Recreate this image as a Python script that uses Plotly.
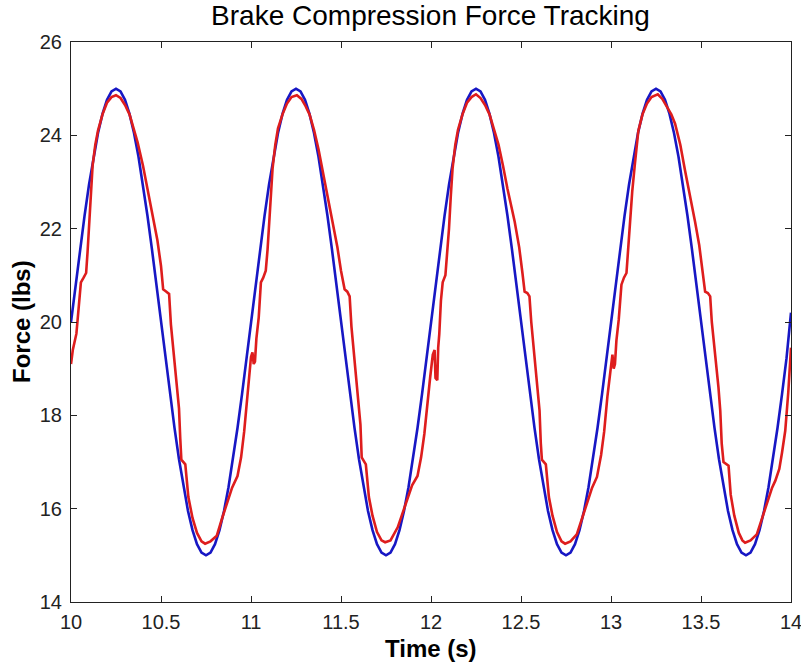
import plotly.graph_objects as go

# ---------------- data ----------------
title_text = "Brake Compression Force Tracking"
x_label = "Time (s)"
y_label = "Force (lbs)"
x_ticks = [10, 10.5, 11, 11.5, 12, 12.5, 13, 13.5, 14]
x_ticktext = ["10", "10.5", "11", "11.5", "12", "12.5", "13", "13.5", "14"]
y_ticks = [14, 16, 18, 20, 22, 24, 26]

# reference (commanded) force, sampled every 0.025 s from 10 s to 14 s
ref_t = [round(10 + 0.025 * i, 3) for i in range(161)]
ref_f = [
    20.00, 20.78, 21.55, 22.27, 22.94, 23.54, 24.05, 24.46, 24.76, 24.94,
    25.00, 24.94, 24.76, 24.46, 24.05, 23.54, 22.94, 22.27, 21.55, 20.78,
    20.00, 19.22, 18.45, 17.73, 17.06, 16.46, 15.95, 15.54, 15.24, 15.06,
    15.00, 15.06, 15.24, 15.54, 15.95, 16.46, 17.06, 17.73, 18.45, 19.22,
    20.00, 20.78, 21.55, 22.27, 22.94, 23.54, 24.05, 24.46, 24.76, 24.94,
    25.00, 24.94, 24.76, 24.46, 24.05, 23.54, 22.94, 22.27, 21.55, 20.78,
    20.00, 19.22, 18.45, 17.73, 17.06, 16.46, 15.95, 15.54, 15.24, 15.06,
    15.00, 15.06, 15.24, 15.54, 15.95, 16.46, 17.06, 17.73, 18.45, 19.22,
    20.00, 20.78, 21.55, 22.27, 22.94, 23.54, 24.05, 24.46, 24.76, 24.94,
    25.00, 24.94, 24.76, 24.46, 24.05, 23.54, 22.94, 22.27, 21.55, 20.78,
    20.00, 19.22, 18.45, 17.73, 17.06, 16.46, 15.95, 15.54, 15.24, 15.06,
    15.00, 15.06, 15.24, 15.54, 15.95, 16.46, 17.06, 17.73, 18.45, 19.22,
    20.00, 20.78, 21.55, 22.27, 22.94, 23.54, 24.05, 24.46, 24.76, 24.94,
    25.00, 24.94, 24.76, 24.46, 24.05, 23.54, 22.94, 22.27, 21.55, 20.78,
    20.00, 19.22, 18.45, 17.73, 17.06, 16.46, 15.95, 15.54, 15.24, 15.06,
    15.00, 15.06, 15.24, 15.54, 15.95, 16.46, 17.06, 17.73, 18.45, 19.22,
    20.20,
]

meas_t = [
    10.000, 10.010, 10.030, 10.045, 10.055, 10.070, 10.084, 10.092, 10.100, 10.110,
    10.120, 10.135, 10.150, 10.175, 10.200, 10.225, 10.250, 10.275, 10.300, 10.325,
    10.345, 10.370, 10.400, 10.425, 10.455, 10.480, 10.500, 10.512, 10.530, 10.545,
    10.555, 10.565, 10.578, 10.590, 10.600, 10.607, 10.613, 10.635, 10.652, 10.675,
    10.700, 10.725, 10.745, 10.775, 10.810, 10.840, 10.867, 10.895, 10.925, 10.945,
    10.962, 10.980, 11.000,
    11.008, 11.015, 11.022, 11.030, 11.043, 11.055, 11.068, 11.082, 11.092, 11.100,
    11.110, 11.120, 11.135, 11.150, 11.175, 11.200, 11.225, 11.255, 11.280, 11.300,
    11.325, 11.350, 11.375, 11.400, 11.425, 11.455, 11.480, 11.500, 11.520, 11.535,
    11.548, 11.558, 11.570, 11.582, 11.595, 11.608, 11.615, 11.638, 11.655, 11.675,
    11.700, 11.725, 11.745, 11.775, 11.815, 11.845, 11.870, 11.895, 11.925, 11.945,
    11.963, 11.980, 11.995, 12.010, 12.020, 12.025, 12.035, 12.040, 12.046, 12.055,
    12.065, 12.080, 12.092, 12.100, 12.110, 12.120, 12.135, 12.150, 12.175, 12.200,
    12.225, 12.250, 12.275, 12.300, 12.325, 12.350, 12.375, 12.400, 12.425, 12.465,
    12.490, 12.508, 12.520, 12.535, 12.547, 12.557, 12.568, 12.580, 12.592, 12.603,
    12.610, 12.616, 12.638, 12.655, 12.675, 12.700, 12.725, 12.745, 12.775, 12.810,
    12.840, 12.867, 12.895, 12.922, 12.945, 12.962, 12.980, 13.000,
    13.008, 13.015, 13.022, 13.030, 13.043, 13.058, 13.072, 13.086, 13.095, 13.105,
    13.118, 13.133, 13.152, 13.175, 13.200, 13.225, 13.260, 13.285, 13.310, 13.335,
    13.356, 13.385, 13.411, 13.440, 13.467, 13.490, 13.508, 13.523, 13.538, 13.551,
    13.560, 13.572, 13.585, 13.597, 13.607, 13.615, 13.625, 13.653, 13.665, 13.685,
    13.710, 13.730, 13.745, 13.775, 13.810, 13.840, 13.867, 13.895, 13.913, 13.935,
    13.950, 13.968, 13.985, 14.000,
]
meas_f = [
    19.10, 19.40, 19.75, 20.35, 20.85, 20.95, 21.05, 21.50, 22.05, 22.75,
    23.35, 23.80, 24.10, 24.45, 24.70, 24.82, 24.86, 24.80, 24.65, 24.45,
    24.20, 23.85, 23.35, 22.85, 22.30, 21.75, 21.20, 20.70, 20.65, 20.60,
    19.95, 19.55, 19.10, 18.65, 18.15, 17.50, 17.05, 16.95, 16.25, 15.80,
    15.48, 15.30, 15.25, 15.30, 15.42, 15.80, 16.10, 16.45, 16.70, 17.10,
    17.65, 18.45, 19.25,
    19.35, 19.10, 19.15, 19.65, 20.10, 20.85, 20.95, 21.10, 21.55, 22.00,
    22.70, 23.30, 23.80, 24.15, 24.45, 24.68, 24.82, 24.86, 24.78, 24.65,
    24.45, 24.12, 23.70, 23.20, 22.68, 22.05, 21.60, 21.10, 20.70, 20.65,
    20.55, 19.90, 19.40, 19.00, 18.45, 17.80, 17.10, 16.95, 16.25, 15.85,
    15.50, 15.32, 15.28, 15.32, 15.60, 15.95, 16.20, 16.50, 16.70, 17.10,
    17.60, 18.30, 18.80, 19.30, 19.40, 18.80, 18.75, 19.45, 19.74, 20.45,
    20.85, 21.00, 21.50, 22.00, 22.70, 23.30, 23.80, 24.12, 24.45, 24.70,
    24.82, 24.88, 24.80, 24.65, 24.45, 24.15, 23.80, 23.35, 22.85, 22.15,
    21.60, 21.05, 20.65, 20.62, 20.55, 20.00, 19.55, 19.10, 18.60, 18.10,
    17.40, 17.05, 16.95, 16.25, 15.85, 15.50, 15.30, 15.25, 15.30, 15.45,
    15.80, 16.10, 16.45, 16.68, 17.15, 17.65, 18.40, 19.05,
    19.30, 19.00, 19.10, 19.60, 20.05, 20.80, 20.95, 21.05, 21.55, 22.15,
    22.80, 23.40, 24.10, 24.45, 24.68, 24.82, 24.88, 24.78, 24.62, 24.45,
    24.25, 23.80, 23.25, 22.70, 22.15, 21.65, 21.10, 20.65, 20.62, 20.55,
    20.00, 19.55, 19.10, 18.60, 18.10, 17.40, 17.00, 16.92, 16.30, 15.85,
    15.48, 15.32, 15.27, 15.32, 15.45, 15.80, 16.10, 16.45, 16.60, 16.85,
    17.20, 17.67, 18.50, 19.45,
]

# ---------------- figure ----------------
FONT = "Liberation Sans, Arial, sans-serif"
BLUE = "#1717c4"
RED = "#de1d1d"

fig = go.Figure()
fig.add_trace(go.Scatter(x=ref_t, y=ref_f, mode="lines",
                         line=dict(color=BLUE, width=2.6), showlegend=False))
fig.add_trace(go.Scatter(x=meas_t, y=meas_f, mode="lines",
                         line=dict(color=RED, width=2.6), showlegend=False))

axis_common = dict(
    showgrid=False, zeroline=False, showline=True, linecolor="#222222",
    linewidth=1, mirror="ticks", ticks="inside", ticklen=6, tickwidth=1,
    tickcolor="#222222", tickfont=dict(family=FONT, size=20, color="#222222"),
    ticklabeloverflow="allow", automargin=False,
)

fig.update_xaxes(range=[10, 14], tickvals=x_ticks, ticktext=x_ticktext,
                 ticklabelstandoff=2, **axis_common)
fig.update_yaxes(range=[14, 26], tickvals=y_ticks,
                 ticklabelstandoff=4, **axis_common)

fig.update_layout(
    width=801, height=662,
    margin=dict(l=71, r=10, t=42, b=60, autoexpand=False),
    plot_bgcolor="white", paper_bgcolor="white",
    title=dict(text=title_text, x=0.5375, xanchor="center",
               y=1 - 15 / 662, yanchor="middle", yref="container",
               font=dict(family=FONT, size=28, color="black")),
    annotations=[
        dict(text="<b>%s</b>" % x_label, xref="paper", yref="paper",
             x=0.5, y=0, yshift=-46, xanchor="center", yanchor="middle",
             showarrow=False, font=dict(family=FONT, size=24, color="black")),
        dict(text="<b>%s</b>" % y_label, xref="paper", yref="paper",
             x=0, y=0.5, xshift=-50, xanchor="center", yanchor="middle",
             textangle=-90, showarrow=False,
             font=dict(family=FONT, size=24, color="black")),
    ],
)

fig.write_html(
    "out.html",
    config={"displayModeBar": False},
    post_script="document.body.style.margin='0';document.body.style.padding='0';"
                "document.body.style.overflow='hidden';",
)
